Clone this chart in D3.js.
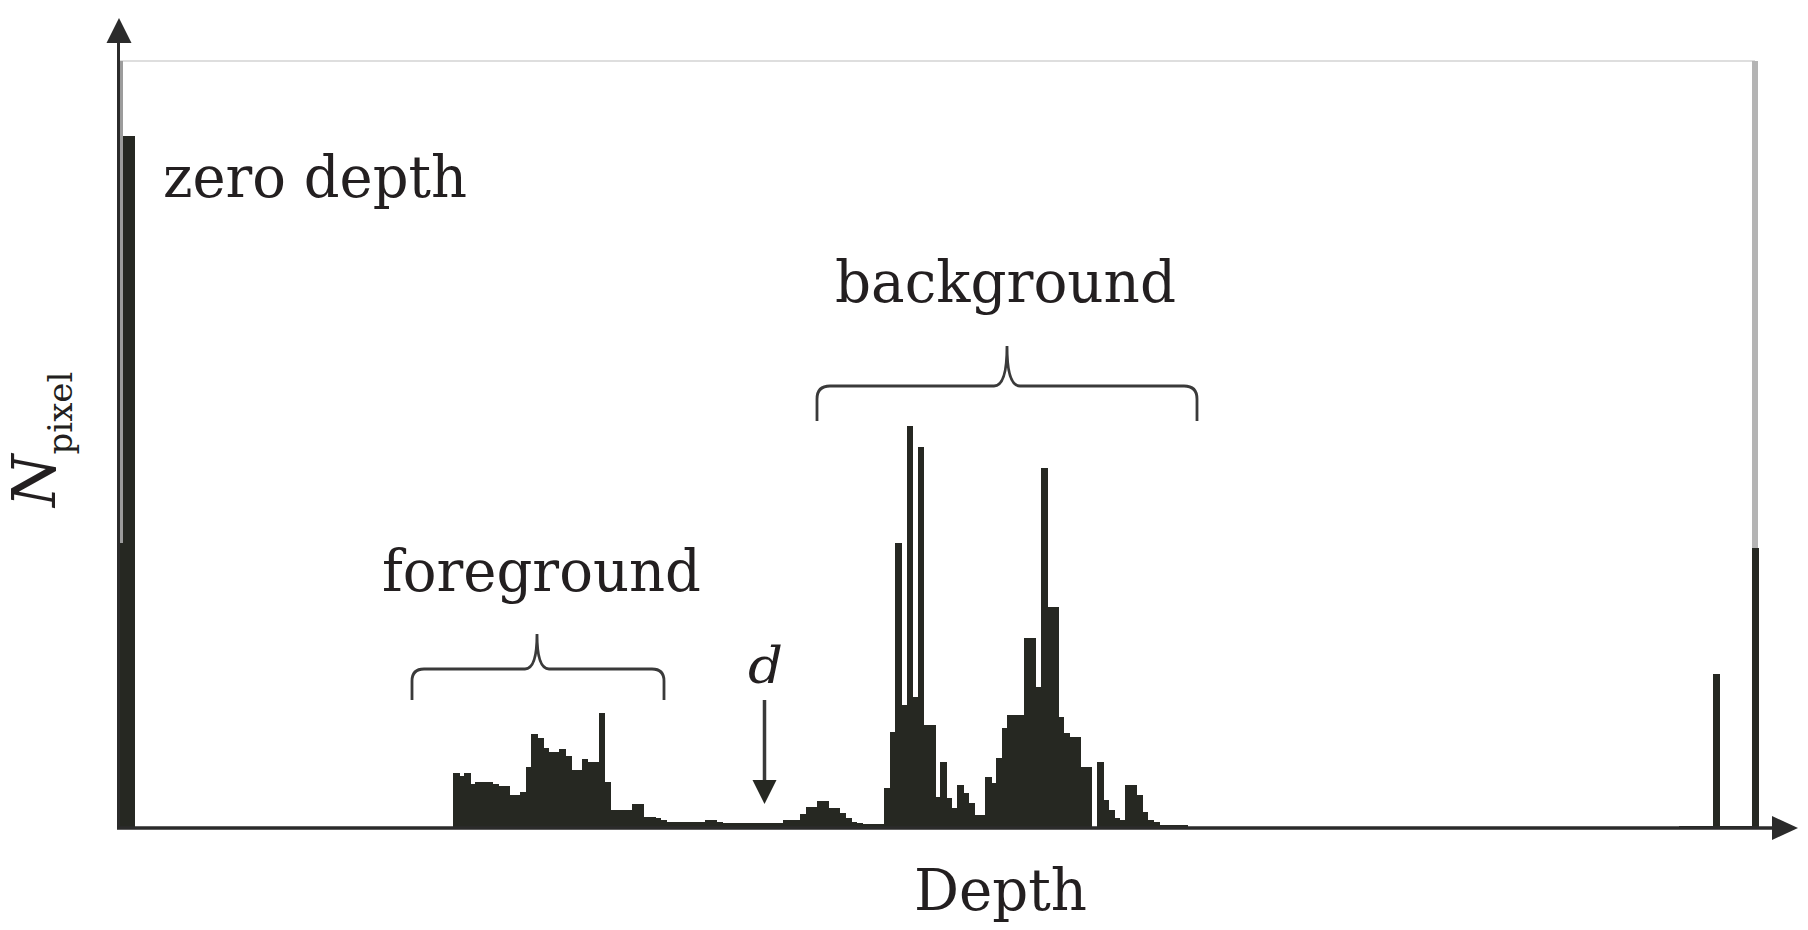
<!DOCTYPE html>
<html><head><meta charset="utf-8">
<script src="https://cdn.jsdelivr.net/npm/d3@7"></script>
<style>html,body{margin:0;padding:0;background:#fff;} svg{display:block}</style>
</head><body>
<svg id="chart" width="1808" height="930"></svg>
<script>
// ---------------- data (relative pixel counts per depth bin) ----------------
const nBins = 293;
const yMax = 767;
const zeroDepthBins = [0, 1, 2];
const zeroDepthCounts = [285, 692, 692];
const mainStartBin = 60;
const mainCounts = [
  55, 52, 55, 44, 46, 46, 46, 44, 42, 42,      // 60-69
  33, 33, 36, 61, 94, 90, 80, 76, 76, 79,      // 70-79
  72, 58, 58, 69, 66, 66, 115, 46, 18, 18,     // 80-89
  18, 18, 24, 24, 11, 11, 10, 8, 6, 6,         // 90-99
  6, 6, 6, 6, 6, 8, 8, 6, 5, 5,                // 100-109
  5, 5, 5, 5, 5, 5, 5, 5, 5, 8,                // 110-119
  8, 8, 14, 21, 21, 27, 27, 20, 20, 15,        // 120-129
  10, 6, 5, 4, 4, 4, 4, 40, 96, 285,           // 130-139
  123, 402, 131, 381, 103, 103, 31, 66, 30, 20,// 140-149
  43, 35, 25, 13, 13, 51, 45, 70, 100, 113,    // 150-159
  113, 113, 190, 190, 141, 360, 221, 221, 111, 95, // 160-169
  91, 91, 61, 61, 0, 66, 28, 18, 10, 8,        // 170-179
  43, 43, 33, 16, 8, 6, 3, 3, 3, 3,            // 180-189
  3, 0                                          // 190-191
];
const farBins = [279, 280, 281, 282, 283, 284, 285, 286, 287, 288, 289, 290, 291, 292];
const farCounts = [2, 2, 2, 2, 2, 2, 154, 2, 2, 2, 2, 2, 2, 280];
const clippedBins = [0, 292];
const clippedShade = ["#9c9c9c", "#b4b4b4"];

const textLabels = ["zero depth", "foreground", "background", "d", "Depth"];
const yLabelMain = "N", yLabelSub = "pixel";

// ---------------- build table ----------------
const table = [];
zeroDepthBins.forEach((b, i) => table.push({bin: b, count: zeroDepthCounts[i]}));
mainCounts.forEach((c, i) => table.push({bin: mainStartBin + i, count: c}));
farBins.forEach((b, i) => table.push({bin: b, count: farCounts[i]}));

// ---------------- scales ----------------
const svg = d3.select("#chart");
const x = d3.scaleLinear().domain([0, nBins]).range([117, 117 + 5.6 * nBins]);
const y = d3.scaleLinear().domain([0, yMax]).range([828, 61]);

const ink = "#262822";
const serif = "'DejaVu Serif', 'Liberation Serif', serif";

// frame (light)
svg.append("line").attr("x1", 118).attr("x2", 1755).attr("y1", y(yMax)).attr("y2", y(yMax))
  .attr("stroke", "#dedede").attr("stroke-width", 2);

// clipped (overflowing) bins drawn gray at full height
svg.append("g").attr("shape-rendering", "crispEdges")
  .selectAll("rect").data(clippedBins).join("rect")
  .attr("x", d => x(d)).attr("width", d => x(d + 1) - x(d))
  .attr("y", y(yMax)).attr("height", y(0) - y(yMax))
  .attr("fill", (d, i) => clippedShade[i]);

// histogram bars
svg.append("g").attr("shape-rendering", "crispEdges")
  .selectAll("rect").data(table.filter(d => d.count > 0)).join("rect")
  .attr("x", d => x(d.bin)).attr("width", d => x(d.bin + 1) - x(d.bin) + 1)
  .attr("y", d => y(d.count)).attr("height", d => y(0) - y(d.count))
  .attr("fill", ink);

// axes
const axisCol = "#2b2b2b";
svg.append("line").attr("x1", 118.5).attr("x2", 118.5).attr("y1", 829).attr("y2", 40)
  .attr("stroke", axisCol).attr("stroke-width", 3);
svg.append("path").attr("d", "M119,18 L106.5,43 L131.5,43 Z").attr("fill", axisCol);
svg.append("line").attr("x1", 117).attr("x2", 1776).attr("y1", 828).attr("y2", 828)
  .attr("stroke", axisCol).attr("stroke-width", 3.5);
svg.append("path").attr("d", "M1798,828 L1772,816 L1772,840 Z").attr("fill", axisCol);

// braces
function brace(x0, x1, yb, yl, xc, yt, r, r2) {
  return `M${x0},${yb} L${x0},${yl + r} Q${x0},${yl} ${x0 + r},${yl} L${xc - r2},${yl} ` +
         `Q${xc},${yl} ${xc},${yt} Q${xc},${yl} ${xc + r2},${yl} L${x1 - r},${yl} ` +
         `Q${x1},${yl} ${x1},${yl + r} L${x1},${yb}`;
}
const braceCol = "#3a3a3a";
svg.append("path").attr("d", brace(412, 664, 700, 669, 537, 634, 12, 12))
  .attr("fill", "none").attr("stroke", braceCol).attr("stroke-width", 2.8);
svg.append("path").attr("d", brace(817, 1197, 421, 386, 1007, 346, 13, 13))
  .attr("fill", "none").attr("stroke", braceCol).attr("stroke-width", 2.8);

// d arrow
svg.append("line").attr("x1", 764.5).attr("x2", 764.5).attr("y1", 700).attr("y2", 784)
  .attr("stroke", "#3a3a3a").attr("stroke-width", 3.5);
svg.append("path").attr("d", "M764.5,804 L752.5,780 L776.5,780 Z").attr("fill", ink);

// labels
const txtCol = "#231f20";
function label(t, xx, yy, w, size, italic) {
  const el = svg.append("text").attr("x", xx).attr("y", yy).text(t)
    .attr("font-family", serif).attr("font-size", size).attr("fill", txtCol);
  if (w) el.attr("textLength", w).attr("lengthAdjust", "spacingAndGlyphs");
  if (italic) el.attr("font-style", "italic");
  return el;
}
label(textLabels[0], 163, 197, 304, 58);
label(textLabels[1], 382, 591, 319, 58);
label(textLabels[2], 835, 302, 341, 58);
label(textLabels[3], 748, 683, 35, 50, true);
label(textLabels[4], 914, 910, 173, 58);

const yl = svg.append("text").attr("transform", "translate(55,507) rotate(-90)")
  .attr("font-family", serif).attr("fill", txtCol);
yl.append("tspan").text(yLabelMain).attr("font-size", 60).attr("font-style", "italic");
yl.append("tspan").text(yLabelSub).attr("font-size", 34).attr("dy", 17);
</script>
</body></html>
